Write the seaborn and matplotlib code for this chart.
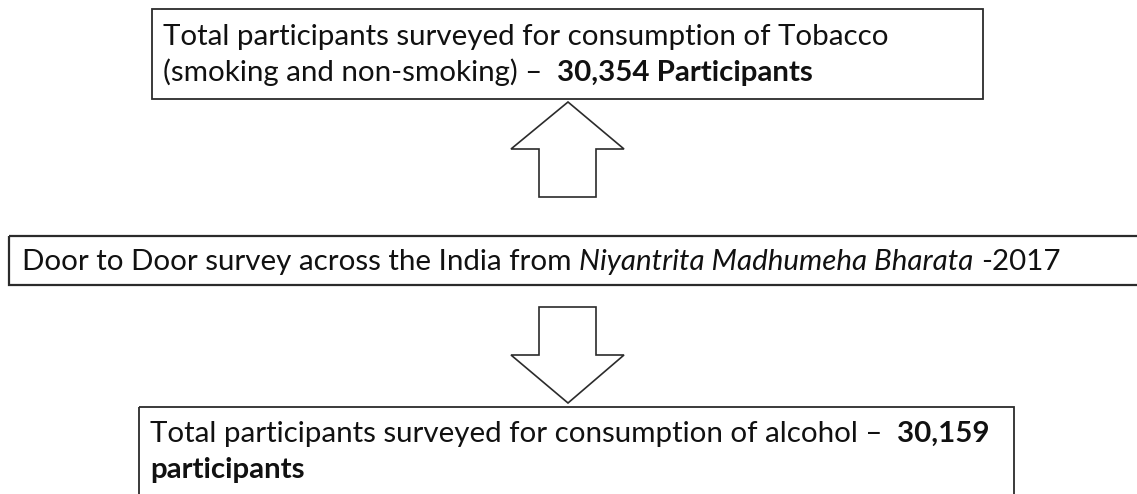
import numpy as np
import pandas as pd
import matplotlib.pyplot as plt
from matplotlib.patches import Rectangle, Polygon
import seaborn as sns

# values shown in the flow diagram
survey_source = "Niyantrita Madhumeha Bharata"
survey_year = 2017
tobacco_participants = 30354
alcohol_participants = 30159

# each line: list of (text, weight, style); segments are joined by a space
top_lines = [
    [("Total participants surveyed for consumption of Tobacco", "normal", "normal")],
    [("(smoking and non-smoking) \u2013 ", "normal", "normal"),
     (f"{tobacco_participants:,} Participants", "bold", "normal")],
]
middle_lines = [
    [("Door to Door survey across the India from", "normal", "normal"),
     (survey_source, "normal", "italic"),
     (f"-{survey_year}", "normal", "normal")],
]
bottom_lines = [
    [("Total participants surveyed for consumption of alcohol \u2013 ", "normal", "normal"),
     (f"{alcohol_participants:,}", "bold", "normal")],
    [("participants", "bold", "normal")],
]

W, H = 1137, 494
FONT = "Lato"
EDGE = "#2b2b2b"
INK = "#111111"

sns.set_theme(style="white")
plt.rcParams["font.family"] = [FONT, "DejaVu Sans"]

fig = plt.figure(figsize=(W / 100, H / 100), dpi=100)
ax = fig.add_axes([0, 0, 1, 1])
ax.set_xlim(0, W)
ax.set_ylim(H, 0)
ax.axis("off")
renderer = fig.canvas.get_renderer()


def seg_width(txt, size, weight="normal", style="normal"):
    t = ax.text(0, 0, txt, fontsize=size, fontweight=weight, fontstyle=style)
    w = t.get_window_extent(renderer=renderer).width
    t.remove()
    return w


def line_width(segments, size):
    space = seg_width("n n", size) - seg_width("nn", size)
    total = 0
    for i, (txt, weight, style) in enumerate(segments):
        n_trail = len(txt) - len(txt.rstrip(" "))
        total += seg_width(txt.strip(" "), size, weight, style)
        total += space * (n_trail + (1 if i < len(segments) - 1 else 0))
    return total


def draw_line(x, y, segments, size):
    space = seg_width("n n", size) - seg_width("nn", size)
    for txt, weight, style in segments:
        n_trail = len(txt) - len(txt.rstrip(" "))
        t = ax.text(x, y, txt.strip(" "), fontsize=size, fontweight=weight,
                    fontstyle=style, color=INK, va="baseline", ha="left")
        x += t.get_window_extent(renderer=renderer).width + space * (n_trail + 1)


def fit_size(segments, target):
    return 20 * target / line_width(segments, 20)


# font sizes fitted to the measured text widths
fs_top = fit_size(top_lines[0], 718)
fs_mid = fit_size(middle_lines[0], 1050)
fs_bot = fit_size(bottom_lines[0], 836)
fs = np.mean([fs_top, fs_mid, fs_bot])

# boxes
ax.add_patch(Rectangle((152, 9), 831, 90, fill=False, ec=EDGE, lw=1.3))
ax.add_patch(Rectangle((9, 236), 1140, 49, fill=False, ec=EDGE, lw=1.6))
ax.add_patch(Rectangle((139, 407), 875, 100, fill=False, ec=EDGE, lw=1.3))

# arrows
up = [(568, 102), (624, 149), (596, 149), (596, 197), (539, 197), (539, 149), (511, 149)]
down = [(539, 307), (596, 307), (596, 355), (624, 355), (568, 403), (511, 355), (539, 355)]
ax.add_patch(Polygon(up, closed=True, fc="white", ec=EDGE, lw=1.2))
ax.add_patch(Polygon(down, closed=True, fc="white", ec=EDGE, lw=1.2))

# text
draw_line(163, 45, top_lines[0], fs)
draw_line(163, 81, top_lines[1], fs)
draw_line(22, 270, middle_lines[0], fs)
draw_line(150, 442, bottom_lines[0], fs)
draw_line(150, 478, bottom_lines[1], fs)

fig.savefig("out.png", dpi=100)
